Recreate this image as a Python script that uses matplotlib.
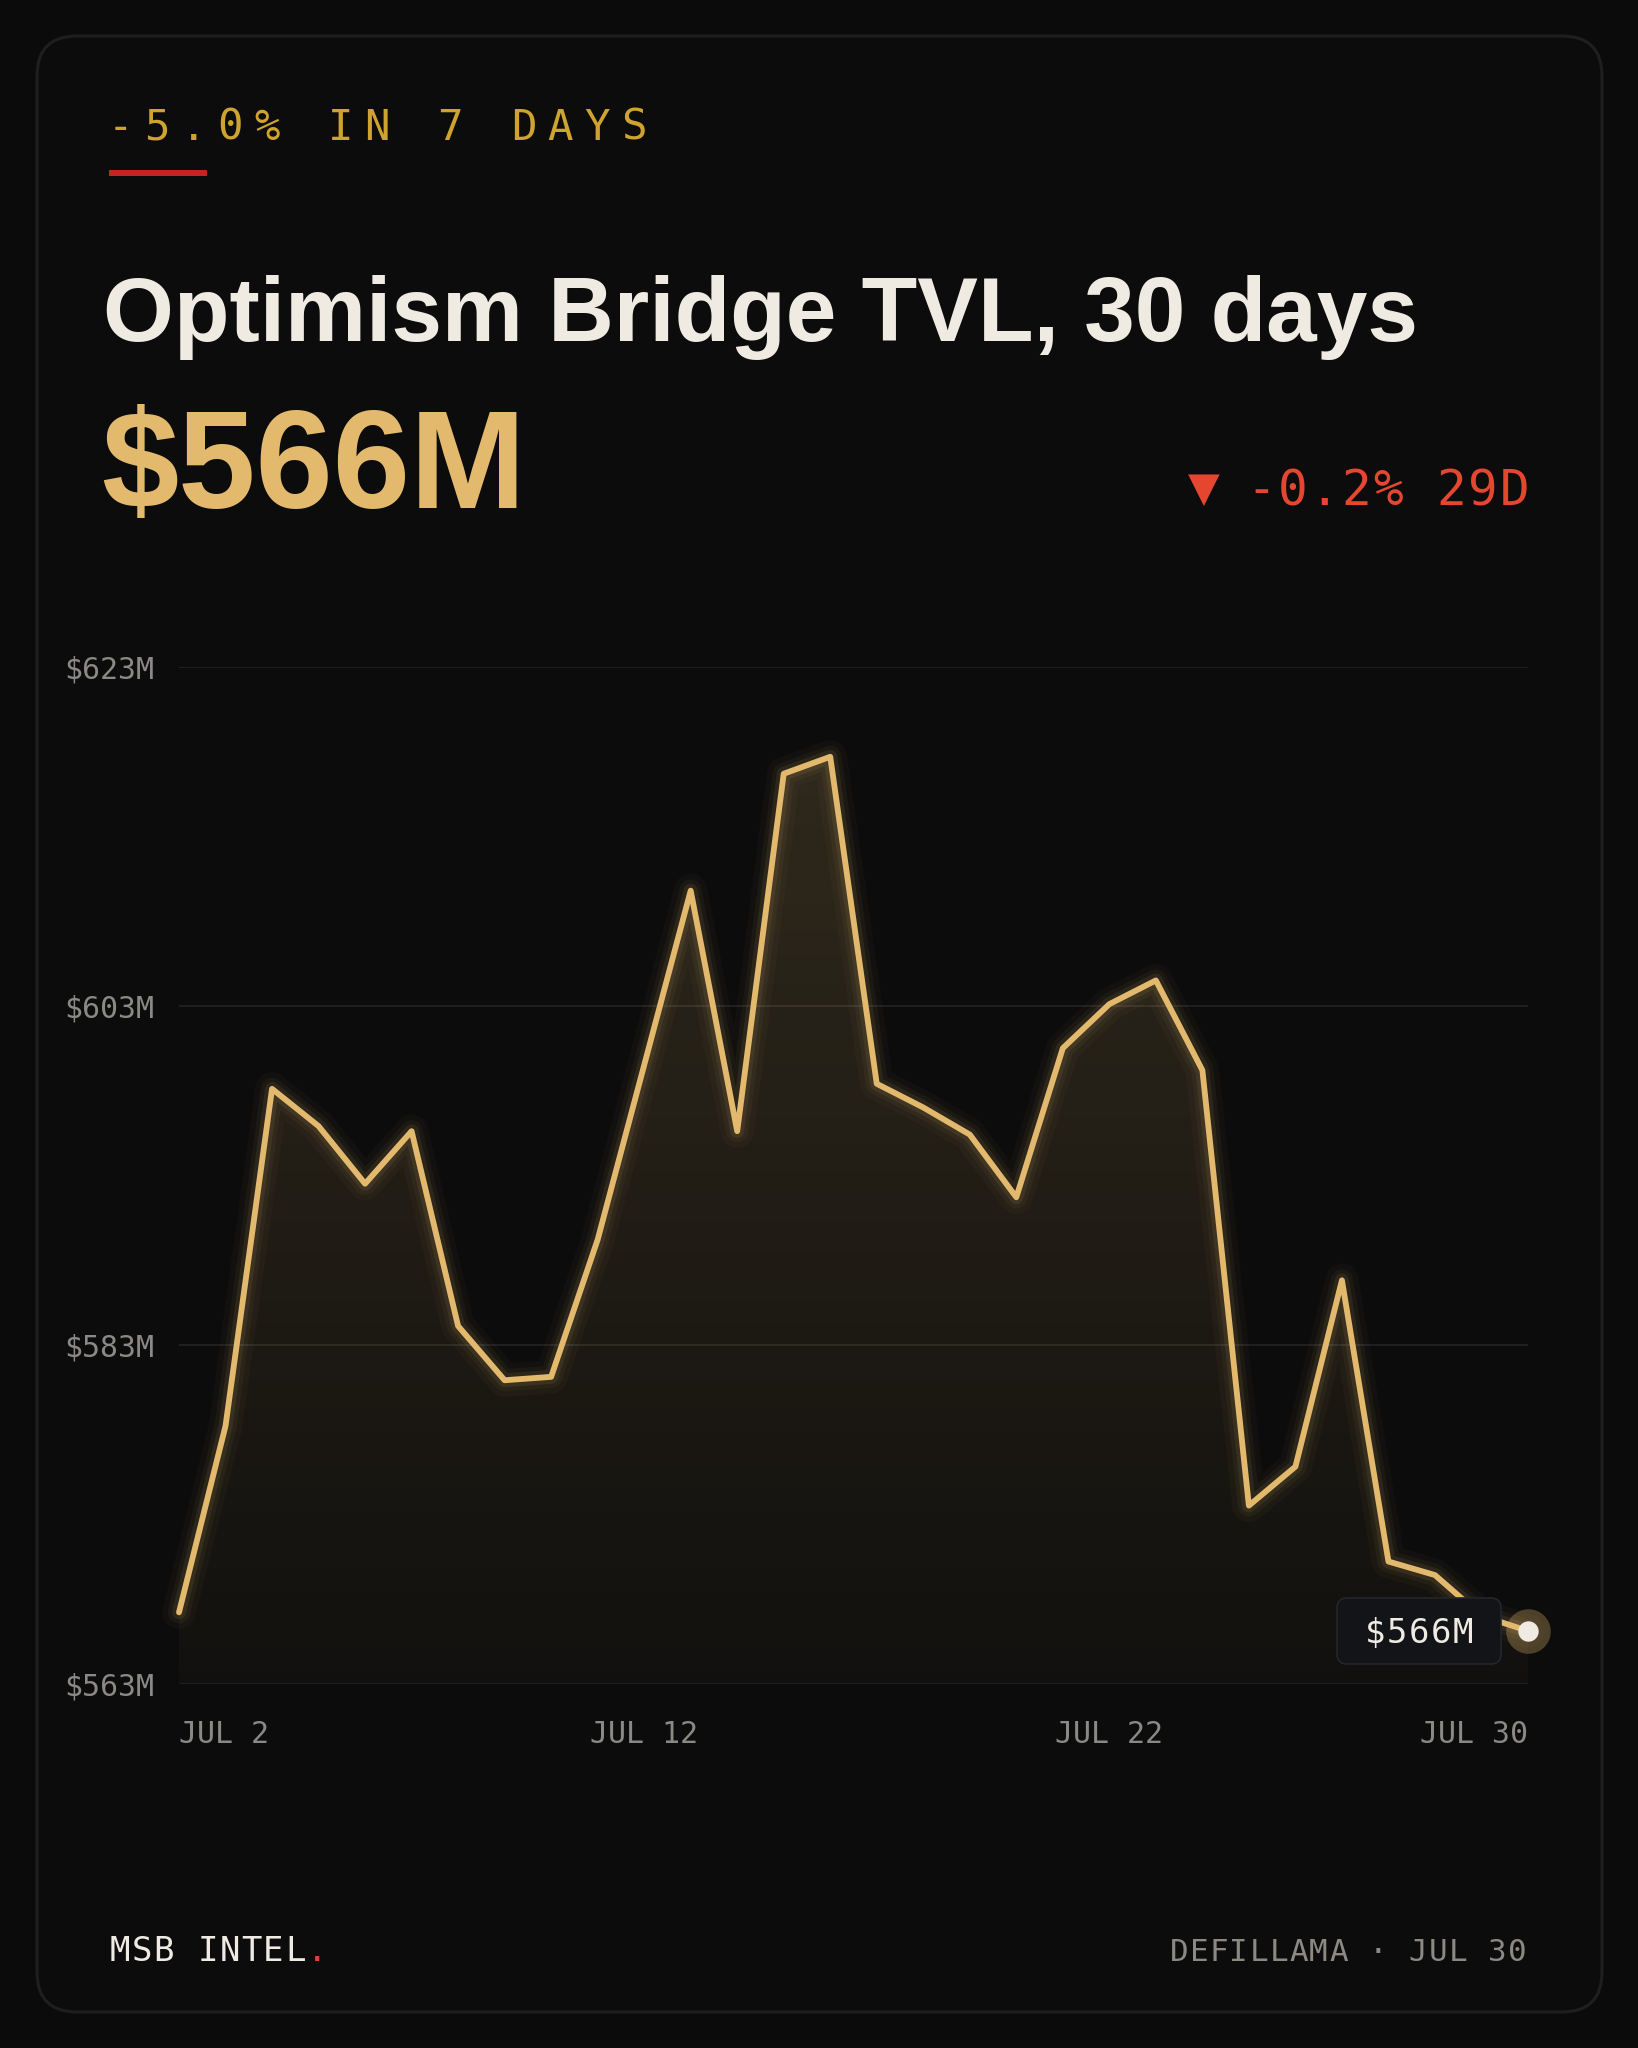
import numpy as np
import matplotlib
matplotlib.use("Agg")
import matplotlib.pyplot as plt
from matplotlib.patches import FancyBboxPatch, Rectangle, Polygon

# --- data ---
tvl = [567.2, 578.2, 598.1, 595.9, 592.5, 595.6, 584.1, 580.9, 581.1, 589.2,
       599.5, 609.8, 595.6, 616.7, 617.7, 598.4, 597.0, 595.4, 591.7, 600.5,
       603.1, 604.5, 599.2, 573.5, 575.8, 586.8, 570.2, 569.4, 567.0, 566.1]
y_ticks = [563, 583, 603, 623]
x_tick_pos = [0, 10, 20, 29]
x_tick_labels = ["JUL 2", "JUL 12", "JUL 22", "JUL 30"]

kicker = "-5.0% IN 7 DAYS"
title = "Optimism Bridge TVL, 30 days"
change_text = "-0.2% 29D"
brand = "MSB INTEL"
source = "DEFILLAMA \u00b7 JUL 30"

# --- style ---
BG = "#0b0b0b"
GOLD = "#e3b96e"
KICK = "#cfa42e"
CREAM = "#efebe3"
RED = "#e5462f"
GREY = "#8b8985"
MONO = ["DejaVu Sans Mono", "DejaVu Sans"]
SANS = ["Liberation Sans", "DejaVu Sans"]

W, H = 1638, 2048
fig = plt.figure(figsize=(W / 100, H / 100), dpi=100, facecolor=BG)

# pixel-space layer for the card and the texts
bg = fig.add_axes([0, 0, 1, 1], zorder=0)
bg.set_xlim(0, W)
bg.set_ylim(H, 0)
bg.axis("off")

card = FancyBboxPatch((37, 36), 1565, 1976, boxstyle="round,pad=0,rounding_size=40",
                      facecolor="#0c0c0c", edgecolor="#1f1f21", lw=2.2)
bg.add_patch(card)


def spaced(ax, x0, y, s, adv, **kw):
    # monospace text with letter spacing: one glyph per cell
    for i, ch in enumerate(s):
        ax.text(x0 + i * adv, y, ch, ha="center", va="baseline", **kw)


spaced(bg, 120, 140, kicker, 36.7, fontsize=30.5, color=KICK, family=MONO)
bg.add_patch(Rectangle((109, 170), 98, 6, facecolor="#c8231e", edgecolor="none"))

bg.text(103, 341, title, fontsize=65.5, fontweight="bold", color=CREAM,
        family=SANS, ha="left", va="baseline")
bg.text(101, 508, f"${tvl[-1]:.0f}M", fontsize=100, fontweight="bold", color=GOLD,
        family=SANS, ha="left", va="baseline")

bg.text(1204, 489, "\u25bc", fontsize=38, color=RED, family=MONO, ha="center", va="center")
spaced(bg, 1261, 505, change_text, 31.7, fontsize=35.6, color=RED, family=MONO)

spaced(bg, 120, 1961, brand, 21.9, fontsize=24.5, color=CREAM, family=MONO)
bg.text(120 + len(brand) * 21.9, 1961, ".", fontsize=24.5, color="#d9443a",
        family=MONO, ha="center", va="baseline")
spaced(bg, 1179, 1961, source, 19.92, fontsize=22.3, color="#8c8982", family=MONO)

# --- chart ---
left, right, top, bottom = 179, 1528, 667, 1683.5
ax = fig.add_axes([left / W, 1 - bottom / H, (right - left) / W, (bottom - top) / H], zorder=1)
ax.set_facecolor("none")
x = np.arange(len(tvl))

for v in y_ticks:
    ax.axhline(v, color="#242424", lw=1.2, zorder=1)

# gradient fill under the line
poly = Polygon([(0, y_ticks[0])] + list(zip(x, tvl)) + [(x[-1], y_ticks[0])],
               closed=True, facecolor="none", edgecolor="none")
ax.add_patch(poly)
grad = np.zeros((256, 1, 4))
grad[..., 0], grad[..., 1], grad[..., 2] = 227 / 255, 185 / 255, 110 / 255
grad[:, 0, 3] = np.linspace(0.03, 0.18, 256)
im = ax.imshow(grad, extent=[0, x[-1], y_ticks[0], y_ticks[-1]], origin="lower",
               aspect="auto", zorder=2)
im.set_clip_path(poly)

# glow + line
for lw, a in [(24, 0.03), (16, 0.05), (10, 0.09)]:
    ax.plot(x, tvl, color=GOLD, lw=lw, alpha=a, solid_joinstyle="round",
            solid_capstyle="round", zorder=3, clip_on=False)
ax.plot(x, tvl, color=GOLD, lw=4.2, solid_joinstyle="round", solid_capstyle="round",
        zorder=4, clip_on=False)

# end point
ax.scatter([x[-1]], [tvl[-1]], s=1030, color=GOLD, alpha=0.3, lw=0, zorder=5, clip_on=False)
ax.scatter([x[-1]], [tvl[-1]], s=215, color=CREAM, lw=0, zorder=6, clip_on=False)

ax.set_xlim(0, x[-1])
ax.set_ylim(y_ticks[0], y_ticks[-1])
for s in ax.spines.values():
    s.set_visible(False)

ax.set_yticks(y_ticks, labels=[f"${v}M" for v in y_ticks])
ax.set_xticks(x_tick_pos, labels=x_tick_labels)
ax.tick_params(axis="y", length=0, pad=18, labelsize=21.5, labelcolor=GREY)
ax.tick_params(axis="x", length=0, pad=26, labelsize=21.5, labelcolor=GREY)
for lab in ax.get_yticklabels() + ax.get_xticklabels():
    lab.set_family(MONO)
xl = ax.get_xticklabels()
xl[0].set_ha("left")
xl[-1].set_ha("right")

# value tag next to the last point, drawn in pixel space on top
top_layer = fig.add_axes([0, 0, 1, 1], zorder=2)
top_layer.set_xlim(0, W)
top_layer.set_ylim(H, 0)
top_layer.axis("off")
px, py = ax.transData.transform((x[-1], tvl[-1]))
py = H - py
bw, bh = 164, 66
bx = px - 27 - bw
top_layer.add_patch(FancyBboxPatch((bx, py - bh / 2), bw, bh,
                                   boxstyle="round,pad=0,rounding_size=10",
                                   facecolor="#131418", edgecolor="#25262b", lw=1.2))
lab = f"${tvl[-1]:.0f}M"
spaced(top_layer, bx + bw / 2 - 2 * 22, py + 12, lab, 22, fontsize=24.5,
       color=CREAM, family=MONO)

fig.savefig("out.png", dpi=100, facecolor=BG)
